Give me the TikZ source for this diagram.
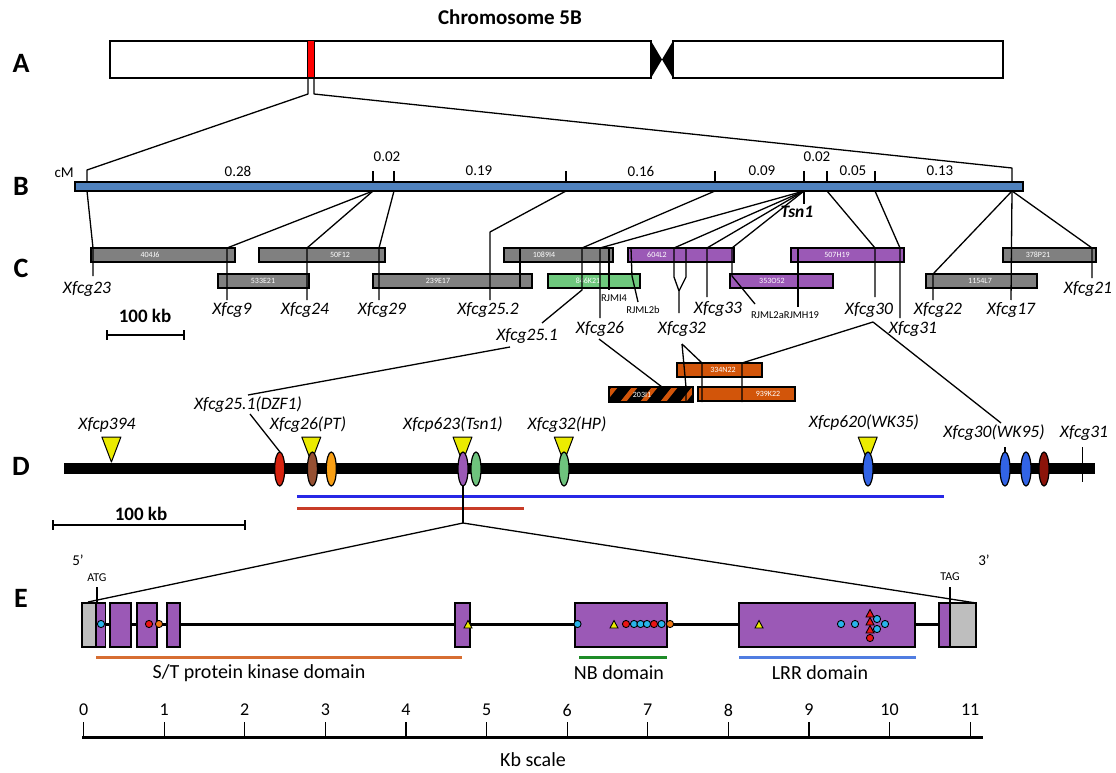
\documentclass[tikz,border=0pt]{standalone}
\usepackage{fontspec}
\setmainfont{Carlito}
\definecolor{bacgray}{RGB}{128,128,128}
\definecolor{bacpurple}{RGB}{155,89,182}
\definecolor{bacgreen}{RGB}{110,200,125}
\definecolor{bacorange}{RGB}{210,85,10}
\definecolor{cmblue}{RGB}{79,129,189}
\definecolor{mkyellow}{RGB}{235,235,0}
\definecolor{dred}{RGB}{215,35,15}
\definecolor{dbrown}{RGB}{150,80,50}
\definecolor{dorange}{RGB}{250,160,20}
\definecolor{dgreen}{RGB}{110,195,125}
\definecolor{dblue}{RGB}{50,100,230}
\definecolor{dmaroon}{RGB}{140,20,10}
\definecolor{lblue}{RGB}{40,40,230}
\definecolor{lred}{RGB}{200,60,40}
\definecolor{ecyan}{RGB}{40,180,235}
\definecolor{ered}{RGB}{235,20,20}
\definecolor{eorange}{RGB}{240,120,20}
\definecolor{stcol}{RGB}{215,110,50}
\definecolor{nbcol}{RGB}{30,140,40}
\definecolor{lrrcol}{RGB}{80,125,225}
\definecolor{utrgray}{RGB}{190,190,190}
\newcommand{\BACbox}[7]{%
  \draw[bacbox, fill=#5] (#2,#4) rectangle (#3,#4+14);
  \node[bactxt] (#1) at (#7,#4+7) {#6};}
\newcommand{\ytri}[1]{\draw[ytr] (#1-9.5,437) -- (#1+9.5,437) -- (#1,462) -- cycle;}
\newcommand{\dell}[2]{\draw[dot, line width=1.2pt, fill=#2] (#1,469) ellipse [x radius=5pt, y radius=17pt];}
\newcommand{\edot}[3]{\draw[dot, fill=#3] (#1,#2) circle [radius=3.6pt];}
\newcommand{\etri}[3]{\draw[dot, fill=#3] (#1-4,#2+3) -- (#1+4,#2+3) -- (#1,#2-4.5) -- cycle;}
\begin{document}
\begin{tikzpicture}[x=1pt,y=-1pt,
  ln/.style={line width=1.3pt, line join=round},
  mk/.style={font=\fontsize{17.5}{17.5}\selectfont\itshape, inner sep=0pt},
  cmt/.style={font=\fontsize{15}{15}\selectfont, inner sep=0pt},
  sec/.style={font=\fontsize{28}{28}\selectfont\bfseries, inner sep=0pt},
  bacbox/.style={draw=black, line width=1.5pt},
  bactxt/.style={font=\fontsize{8}{8}\selectfont, text=white, inner sep=0pt},
  tinyl/.style={font=\fontsize{10.5}{10.5}\selectfont, inner sep=0pt},
  ytr/.style={draw=black, line width=1pt, fill=mkyellow, line join=round},
  dot/.style={draw=black, line width=0.9pt},
  exon/.style={draw=black, line width=1.5pt, fill=bacpurple},
  utr/.style={draw=black, line width=1.5pt, fill=utrgray},
  dom/.style={font=\fontsize{20}{20}\selectfont, inner sep=0pt},
  skb/.style={font=\fontsize{19}{19}\selectfont\bfseries, inner sep=0pt},
  num/.style={font=\fontsize{18}{18}\selectfont, inner sep=0pt}]
\useasboundingbox (0,0) rectangle (1116,773);
\fill[white] (0,0) rectangle (1116,773);

% ---------------- A ----------------
\node[font=\fontsize{21}{21}\selectfont\bfseries, inner sep=0pt] (title) at (510,17) {Chromosome 5B};
\node[sec] (A) at (21,63) {A};
\draw[line width=1.8pt, fill=white] (110,41) rectangle (651,78);
\draw[line width=1.8pt, fill=white] (673,41) rectangle (1003,78);
\fill (651,41) -- (662,59.5) -- (651,78) -- cycle;
\fill (673,41) -- (662,59.5) -- (673,78) -- cycle;
\draw[line width=1pt, fill=red] (307.5,41) rectangle (314.5,78);
\coordinate (bL) at (87,182);
\coordinate (bR) at (1012,182);
\draw[ln] (308,78) -- (308,94) -- (87,170) -- (bL);
\draw[ln] (314,78) -- (314,94) -- (1012,168) -- (bR);

% ---------------- B ----------------
\node[sec] (B) at (21,186) {B};
\node[cmt, anchor=east] (cM) at (74,173) {cM};
\draw[line width=1.3pt, fill=cmblue] (75,182) rectangle (1023,191);
\foreach \x in {373,394,566,715,804,827,875} \draw[ln] (\x,171) -- (\x,182);
\node[cmt] (c1) at (238,171) {0.28};
\node[cmt] (c2) at (387,157) {0.02};
\node[cmt] (c3) at (479,171) {0.19};
\node[cmt] (c4) at (641,171) {0.16};
\node[cmt] (c5) at (762,171) {0.09};
\node[cmt] (c6) at (817,157) {0.02};
\node[cmt] (c7) at (853,171) {0.05};
\node[cmt] (c8) at (940,171) {0.13};

% ---------------- C ----------------
\node[sec] (C) at (21,268) {C};
\BACbox{b404}{91}{235}{248}{bacgray}{404J6}{150}
\BACbox{b50}{259}{385}{248}{bacgray}{50F12}{340}
\BACbox{b1089}{504}{613}{248}{bacgray}{1089I4}{544}
\BACbox{b604}{628}{734}{248}{bacpurple}{604L2}{657}
\BACbox{b507}{791}{904}{248}{bacpurple}{507H19}{837}
\BACbox{b378}{1003}{1096}{248}{bacgray}{378P21}{1038}
\BACbox{b533}{218}{309}{274}{bacgray}{533E21}{263}
\BACbox{b239}{373}{532}{274}{bacgray}{239E17}{438}
\BACbox{b846}{548}{640}{274}{bacgreen}{846K21}{588}
\BACbox{b353}{730}{833}{274}{bacpurple}{353O52}{772}
\BACbox{b1154}{926}{1037}{274}{bacgray}{1154L7}{980}

\coordinate (F) at (804,191);
\coordinate (G) at (1012,191);
\draw[ln] (87,191) -- (93,248) -- (93,276);
\draw[ln] (373,191) -- (227,248) -- (227,300);
\draw[ln] (373,191) -- (307,248) -- (307,300);
\draw[ln] (394,191) -- (379,248) -- (379,300);
\draw[ln] (566,191) -- (490,232) -- (490,300);
\draw[ln] (520,248) -- (520,288);
\draw[ln] (715,191) -- (582,248) -- (582,290) -- (542,323);
\draw[ln] (F) -- (600,248) -- (600,318);
\draw[ln] (609,248) -- (609,290);
\draw[ln] (631,248) -- (632,276) -- (638,302);
\draw[ln] (F) -- (674,248) -- (674,277) -- (679,291) -- (679,313);
\draw[ln] (686,248) -- (686,277) -- (679,291);
\draw[ln] (F) -- (707,248) -- (707,297);
\draw[ln] (F) -- (732,248) -- (732,276) -- (755,304);
\draw[ln] (798,248) -- (798,307);
\draw[ln] (F) -- (804,204);
\draw[ln] (827,191) -- (875,248) -- (875,297);
\draw[ln] (875,191) -- (900,248) -- (900,318);
\draw[ln] (G) -- (933,274) -- (933,300);
\draw[ln] (G) -- (1011,300);
\draw[ln] (G) -- (1092,248) -- (1092,278);

\node[font=\fontsize{17.5}{17.5}\selectfont\bfseries\itshape, inner sep=0pt] (tsn) at (797,212) {Tsn1};
\node[mk] (m23) at (87,289) {Xfcg23};
\node[mk] (m9) at (232,310) {Xfcg9};
\node[mk] (m24) at (305,310) {Xfcg24};
\node[mk] (m29) at (382,310) {Xfcg29};
\node[mk] (m252) at (488,310) {Xfcg25.2};
\node[mk] (m251) at (527,336) {Xfcg25.1};
\node[mk] (m26) at (600,329) {Xfcg26};
\node[mk] (m32) at (682,329) {Xfcg32};
\node[mk] (m33) at (718,309) {Xfcg33};
\node[mk] (m30) at (869,310) {Xfcg30};
\node[mk] (m31) at (913,329) {Xfcg31};
\node[mk] (m22) at (938,310) {Xfcg22};
\node[mk] (m17) at (1011,310) {Xfcg17};
\node[mk] (m21) at (1088,289) {Xfcg21};
\node[tinyl] (r4) at (614,298) {RJMI4};
\node[tinyl] (r2b) at (643,310) {RJML2b};
\node[tinyl] (r2a) at (785,315) {RJML2aRJMH19};

\node[skb] (kb1) at (145,316) {100 kb};
\draw[ln] (107,335) -- (184,335);
\draw[ln] (107,330) -- (107,340);
\draw[ln] (184,330) -- (184,340);

% orange BACs
\BACbox{b334}{677}{762}{363}{bacorange}{334N22}{723}
\begin{scope}
\clip (609,387) rectangle (693,402);
\fill[black] (609,387) rectangle (693,402);
\foreach \s in {600,620,...,700} \fill[bacorange] (\s,402) -- (\s+6,402) -- (\s+18,387) -- (\s+12,387) -- cycle;
\end{scope}
\draw[bacbox] (609,387) rectangle (693,402);
\node[bactxt] (b203) at (642,394.5) {203I1};
\BACbox{b939}{698}{795}{387}{bacorange}{939K22}{768}

\coordinate (p30) at (873,322);
\draw[ln] (599,339) -- (662,387);
\draw[ln] (682,344) -- (686,387) -- (686,402);
\draw[ln] (682,344) -- (702,363) -- (702,402);
\draw[ln] (p30) -- (742,363) -- (742,402);
\draw[ln] (p30) -- (1001,423);
\draw[ln] (510,347) -- (248,395);

% ---------------- D ----------------
\node[sec] (D) at (21,466) {D};
\fill (64,463) rectangle (1095,474);
\ytri{111.4}
\ytri{311.3}
\ytri{462.5}
\ytri{563.8}
\ytri{867.7}
\dell{279.7}{dred}
\dell{312.4}{dbrown}
\dell{331.3}{dorange}
\dell{463}{bacpurple}
\dell{476}{dgreen}
\dell{564}{dgreen}
\dell{868}{dblue}
\dell{1005}{dblue}
\dell{1026}{dblue}
\dell{1044}{dmaroon}
\draw[ln] (1005,447) -- (1005,452);
\draw[ln] (1082.5,447) -- (1082.5,482);
\node[mk] (d394) at (107,425) {Xfcp394};
\node[mk] (d251) at (248,405) {Xfcg25.1(DZF1)};
\node[mk] (d26) at (308,425) {Xfcg26(PT)};
\node[mk] (d623) at (453,425) {Xfcp623(Tsn1)};
\node[mk] (d32) at (567,425) {Xfcg32(HP)};
\node[mk] (d620) at (864,423) {Xfcp620(WK35)};
\node[mk] (d30) at (994,433) {Xfcg30(WK95)};
\node[mk] (d31) at (1084,433) {Xfcg31};
\draw[ln] (250,414) -- (280,452);
\draw[line width=3pt, lblue] (297,496) -- (944,496);
\draw[line width=3pt, lred] (297,508) -- (524,508);
\node[skb] (kb2) at (141,514) {100 kb};
\draw[ln] (53,525) -- (245,525);
\draw[ln] (53,520) -- (53,530);
\draw[ln] (245,520) -- (245,530);
\coordinate (tv) at (463,523);
\draw[ln] (463,486) -- (tv);
\draw[ln] (tv) -- (88,602);
\draw[ln] (tv) -- (976,603);

% ---------------- E ----------------
\node[sec] (E) at (21,598) {E};
\node[font=\fontsize{15}{15}\selectfont, inner sep=0pt] (p5) at (78,560) {5'};
\node[font=\fontsize{15}{15}\selectfont, inner sep=0pt] (p3) at (984,560) {3'};
\node[font=\fontsize{12}{12}\selectfont, inner sep=0pt] (atg) at (97,578) {ATG};
\node[font=\fontsize{12}{12}\selectfont, inner sep=0pt] (tag) at (950,577) {TAG};
\draw[line width=3pt] (96,624) -- (939,624);
\draw[utr] (82,603) rectangle (96,647);
\draw[exon] (96,603) rectangle (105.5,647);
\draw[exon] (110,603) rectangle (131,647);
\draw[exon] (137,603) rectangle (157,647);
\draw[exon] (167,603) rectangle (180,647);
\draw[exon] (455,603) rectangle (470,647);
\draw[exon] (575,603) rectangle (667,647);
\draw[exon] (739,603) rectangle (915,647);
\draw[exon] (939,603) rectangle (950,647);
\draw[utr] (950,603) rectangle (976,647);
\draw[ln] (97,587) -- (97,603);
\draw[ln] (950,587) -- (950,603);
\edot{101}{624}{ecyan}
\edot{149}{624}{ered}
\edot{159}{624}{eorange}
\etri{468}{625}{mkyellow}
\edot{577.5}{624}{ecyan}
\etri{614}{625}{mkyellow}
\edot{626}{624}{ered}
\edot{634}{624}{ecyan}
\edot{640.5}{624}{ecyan}
\edot{647}{624}{ecyan}
\edot{654}{624}{ered}
\edot{661.5}{624}{ecyan}
\edot{670}{624}{eorange}
\etri{759}{625}{mkyellow}
\edot{841}{624}{ecyan}
\edot{855}{624}{ecyan}
\edot{877}{619}{ecyan}
\edot{877}{629}{ecyan}
\edot{885}{624}{ecyan}
\etri{870}{614}{ered}
\etri{870}{622}{ered}
\etri{870}{630}{ered}
\edot{870}{638}{ered}
\draw[line width=3pt, stcol] (96,657) -- (462,657);
\draw[line width=3pt, nbcol] (579,657) -- (667,657);
\draw[line width=3pt, lrrcol] (739,657) -- (916,657);
\node[dom] (st) at (259,673) {S/T protein kinase domain};
\node[dom] (nb) at (619,673) {NB domain};
\node[dom] (lrr) at (820,673) {LRR domain};

% scale
\draw[line width=3pt] (82,737) -- (983,737);
\foreach \k in {0,...,11} {
  \draw[ln] (83.6+80.6*\k,722) -- (83.6+80.6*\k,737);
  \node[num] (n\k) at (83.6+80.6*\k,710) {\k};
}
\node[dom] (kbs) at (533,760) {Kb scale};
\end{tikzpicture}
\end{document}
